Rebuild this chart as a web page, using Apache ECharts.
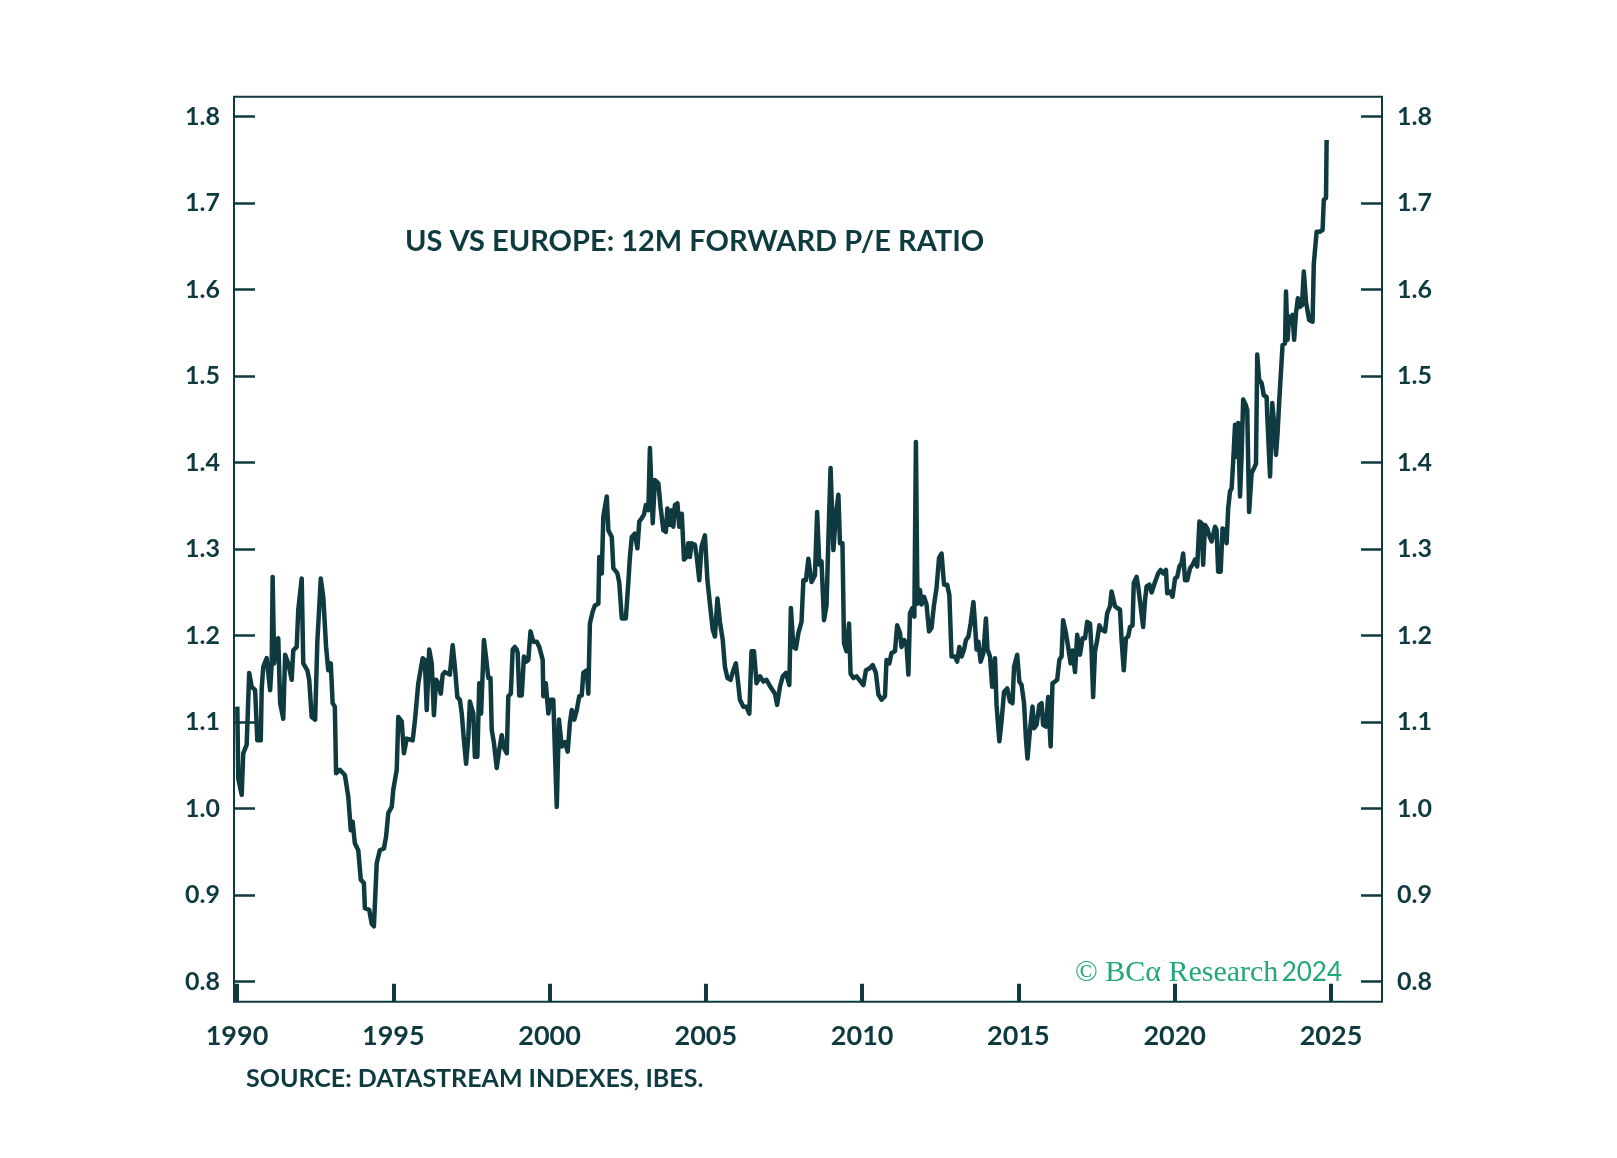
<!DOCTYPE html>
<html><head><meta charset="utf-8">
<script src="https://cdn.jsdelivr.net/npm/echarts/dist/echarts.min.js"></script>
<style>html,body{margin:0;padding:0;background:#fff}#c{width:1617px;height:1158px}</style>
</head><body><div id="c"></div>
<script>
// Decimal-year dates and US/Europe 12M forward P/E ratio values
const dates = [
1990.01,1990.04,1990.15,1990.20,1990.31,1990.39,1990.47,1990.58,1990.65,1990.76,1990.79,1990.84,1990.95,1991.06,1991.11,1991.14,1991.19,1991.25,1991.32,1991.38,1991.48,1991.54,1991.64,1991.75,1991.80,1991.91,1991.96,1992.07,1992.12,1992.25,1992.31,1992.39,1992.50,1992.57,1992.63,1992.68,1992.76,1992.85,1992.92,1993.00,1993.06,1993.13,1993.17,1993.29,1993.45,1993.56,1993.64,1993.70,1993.77,1993.88,1993.96,1994.06,1994.09,1994.23,1994.31,1994.38,1994.47,1994.57,1994.70,1994.77,1994.84,1994.95,1995.00,1995.11,1995.16,1995.27,1995.34,1995.43,1995.62,1995.69,1995.80,
1995.85,1995.94,1996.01,1996.07,1996.15,1996.23,1996.30,1996.37,1996.44,1996.52,1996.58,1996.65,1996.81,1996.90,1996.97,1997.05,1997.13,1997.19,1997.26,1997.33,1997.40,1997.45,1997.51,1997.56,1997.61,1997.69,1997.75,1997.81,1997.86,1997.90,1997.99,1998.04,1998.11,1998.15,1998.22,1998.31,1998.39,1998.47,1998.52,1998.63,1998.68,1998.76,1998.82,1998.89,1998.95,1998.98,1999.03,1999.11,1999.18,1999.25,1999.32,1999.39,1999.48,1999.59,1999.67,
1999.78,1999.80,1999.88,1999.96,2000.03,2000.12,2000.17,2000.23,2000.30,2000.39,2000.49,2000.58,2000.65,2000.71,2000.79,2000.87,2000.95,2001.03,2001.08,2001.19,2001.24,2001.29,2001.38,2001.45,2001.56,2001.59,2001.67,2001.72,2001.83,2001.88,2001.99,2002.04,2002.17,2002.23,2002.31,2002.44,2002.52,2002.57,2002.63,2002.73,2002.81,2002.87,2002.95,2003.02,2003.08,2003.16,2003.21,2003.30,2003.37,2003.48,2003.55,2003.64,2003.72,2003.77,2003.85,2003.91,2003.96,2004.01,2004.09,2004.15,2004.23,2004.30,2004.38,2004.44,2004.49,2004.54,2004.65,2004.71,2004.79,
2004.86,2004.97,2005.05,2005.13,2005.22,2005.29,2005.37,2005.45,2005.54,2005.61,2005.69,2005.79,2005.88,2005.96,2006.04,2006.09,2006.20,2006.30,2006.39,2006.46,2006.54,2006.62,2006.73,2006.84,2006.94,2007.03,2007.10,2007.21,2007.28,2007.37,2007.46,2007.56,2007.67,2007.72,2007.80,2007.88,2007.96,2008.06,2008.12,2008.20,2008.28,2008.33,2008.38,2008.49,2008.56,2008.63,2008.70,2008.78,2008.86,2008.92,2008.99,2009.08,2009.16,2009.24,2009.29,2009.37,2009.42,2009.50,2009.58,2009.63,2009.72,2009.82,2009.91,
2010.04,2010.12,2010.23,2010.34,2010.44,2010.52,2010.62,2010.73,2010.78,2010.87,2010.94,2011.05,2011.12,2011.21,2011.26,2011.35,2011.42,2011.48,2011.53,2011.61,2011.67,2011.72,2011.77,2011.85,2011.90,2011.98,2012.06,2012.14,2012.22,2012.30,2012.38,2012.46,2012.54,2012.62,2012.72,2012.79,2012.86,2012.97,2013.04,2013.11,2013.18,2013.26,2013.32,2013.40,2013.47,2013.56,2013.61,2013.66,2013.72,2013.79,2013.88,2013.96,2014.01,2014.09,2014.16,2014.25,2014.30,2014.39,
2014.46,2014.54,2014.64,2014.73,2014.81,2014.86,2014.96,2015.03,2015.10,2015.18,2015.24,2015.29,2015.37,2015.45,2015.50,2015.58,2015.67,2015.74,2015.79,2015.88,2015.95,2016.03,2016.09,2016.17,2016.24,2016.31,2016.38,2016.43,2016.52,2016.59,2016.67,2016.73,2016.81,2016.88,2016.97,2017.05,2017.13,2017.20,2017.29,2017.34,2017.39,2017.45,2017.52,2017.59,2017.66,2017.77,2017.84,2017.93,2017.98,2018.09,2018.16,2018.25,2018.30,2018.37,2018.44,2018.51,2018.57,2018.65,2018.69,2018.78,2018.83,2018.91,2018.99,2019.05,2019.10,2019.19,
2019.26,2019.37,2019.47,2019.55,2019.63,2019.72,2019.76,2019.85,2019.93,2020.01,2020.08,2020.15,2020.22,2020.27,2020.33,2020.40,2020.49,2020.57,2020.65,2020.72,2020.79,2020.86,2020.91,2020.97,2021.04,2021.11,2021.18,2021.23,2021.29,2021.34,2021.39,2021.47,2021.53,2021.61,2021.66,2021.71,2021.77,2021.82,2021.87,2021.93,2021.98,2022.03,2022.09,2022.14,2022.19,2022.27,2022.32,2022.38,2022.46,2022.53,2022.60,2022.64,2022.70,2022.78,2022.85,2022.94,2022.96,2023.05,2023.12,2023.17,2023.24,2023.29,2023.34,2023.40,2023.45,2023.53,2023.56,2023.61,2023.66,2023.72,2023.77,2023.82,2023.88,2023.94,2024.00,2024.07,2024.13,2024.20,2024.26,2024.30,2024.41,2024.45,2024.54,2024.64,2024.73,2024.77,2024.84,2024.86
];
const peRatio = [
1.118,1.035,1.016,1.064,1.074,1.157,1.141,1.137,1.079,1.079,1.139,1.164,1.174,1.137,1.168,1.268,1.168,1.195,1.197,1.122,1.104,1.178,1.168,1.149,1.183,1.187,1.230,1.266,1.168,1.160,1.149,1.106,1.103,1.193,1.195,1.266,1.245,1.187,1.160,1.168,1.122,1.118,1.041,1.045,1.039,1.014,0.975,0.985,0.960,0.952,0.918,0.914,0.885,0.883,0.867,0.864,0.937,0.952,0.954,0.968,0.995,1.002,1.022,1.045,1.106,1.101,1.064,1.081,1.079,1.101,1.145,
1.145,1.174,1.172,1.114,1.184,1.168,1.108,1.149,1.145,1.133,1.155,1.158,1.155,1.189,1.164,1.129,1.126,1.110,1.079,1.052,1.083,1.124,1.126,1.110,1.060,1.060,1.145,1.110,1.110,1.195,1.168,1.151,1.151,1.091,1.076,1.047,1.068,1.085,1.072,1.064,1.130,1.133,1.184,1.187,1.184,1.180,1.131,1.131,1.176,1.170,1.172,1.205,1.193,1.193,1.187,
1.172,1.130,1.145,1.110,1.126,1.126,1.068,1.002,1.103,1.072,1.077,1.066,1.099,1.114,1.103,1.114,1.130,1.131,1.157,1.160,1.133,1.214,1.228,1.235,1.237,1.291,1.272,1.338,1.361,1.322,1.314,1.278,1.272,1.261,1.220,1.220,1.262,1.291,1.314,1.318,1.301,1.332,1.336,1.340,1.351,1.345,1.417,1.330,1.380,1.376,1.349,1.322,1.320,1.347,1.328,1.345,1.326,1.351,1.353,1.326,1.341,1.288,1.291,1.307,1.291,1.307,1.305,1.291,1.264,
1.303,1.316,1.264,1.237,1.207,1.199,1.243,1.216,1.195,1.164,1.151,1.149,1.160,1.168,1.143,1.126,1.118,1.118,1.110,1.182,1.182,1.145,1.153,1.147,1.149,1.143,1.139,1.133,1.120,1.141,1.153,1.157,1.143,1.232,1.187,1.185,1.203,1.216,1.264,1.264,1.289,1.291,1.262,1.270,1.343,1.282,1.286,1.218,1.235,1.311,1.394,1.299,1.340,1.363,1.307,1.307,1.191,1.182,1.214,1.156,1.151,1.153,1.149,
1.143,1.160,1.162,1.166,1.157,1.132,1.126,1.130,1.172,1.168,1.180,1.182,1.212,1.203,1.187,1.195,1.189,1.155,1.226,1.232,1.222,1.424,1.237,1.253,1.236,1.245,1.236,1.205,1.209,1.236,1.255,1.290,1.295,1.259,1.259,1.247,1.176,1.176,1.170,1.187,1.176,1.184,1.195,1.199,1.214,1.239,1.214,1.184,1.193,1.170,1.180,1.220,1.184,1.176,1.141,1.174,1.120,1.078,
1.101,1.135,1.139,1.124,1.122,1.164,1.178,1.147,1.143,1.122,1.081,1.058,1.091,1.118,1.093,1.097,1.120,1.122,1.097,1.095,1.129,1.072,1.145,1.147,1.149,1.172,1.176,1.218,1.203,1.187,1.168,1.183,1.158,1.201,1.178,1.197,1.197,1.216,1.214,1.183,1.129,1.182,1.195,1.212,1.207,1.205,1.226,1.234,1.251,1.234,1.232,1.230,1.195,1.160,1.197,1.199,1.210,1.212,1.261,1.268,1.257,1.234,1.210,1.241,1.257,1.259,
1.250,1.262,1.272,1.276,1.272,1.276,1.249,1.251,1.245,1.266,1.268,1.280,1.284,1.295,1.264,1.264,1.278,1.282,1.288,1.280,1.332,1.330,1.282,1.328,1.324,1.315,1.309,1.307,1.326,1.322,1.274,1.274,1.324,1.322,1.307,1.347,1.367,1.370,1.401,1.444,1.407,1.446,1.361,1.409,1.473,1.467,1.461,1.343,1.388,1.393,1.399,1.525,1.496,1.492,1.478,1.476,1.455,1.384,1.469,1.449,1.409,1.434,1.469,1.471,1.536,1.538,1.598,1.542,1.569,1.565,1.571,1.542,1.573,1.590,1.580,1.582,1.621,1.586,1.588,1.565,1.563,1.630,1.667,1.667,1.669,1.704,1.706,1.773
];
const xTickMin = 1990, xTickMax = 2025, xTickStep = 5;
const yTickMin = 0.8, yTickMax = 1.8, yTickStep = 0.1;
const chartTitle = 'US VS EUROPE: 12M FORWARD P/E RATIO';
const sourceNote = 'SOURCE: DATASTREAM INDEXES, IBES.';
const watermark = '© BCα Research';
const watermarkYear = '2024';

const INK = '#0e3a40';
const GREEN = '#22a67b';
const FONT = 'Lato, "Open Sans", sans-serif';

const n = Math.min(dates.length, peRatio.length);
const seriesData = [];
for (let i = 0; i < n; i++) seriesData.push([dates[i], peRatio[i]]);

const chart = echarts.init(document.getElementById('c'), null, {renderer: 'canvas'});
const yLabel = {color: INK, fontSize: 25, fontWeight: 'bold', fontFamily: FONT, formatter: v => v.toFixed(1)};
chart.setOption({
  animation: false,
  backgroundColor: '#ffffff',
  grid: {left: 237, right: 286, top: 116.7, bottom: 176.3, containLabel: false},
  xAxis: {
    type: 'value', min: xTickMin, max: xTickMax, interval: xTickStep,
    offset: 20,
    axisLine: {show: false},
    axisTick: {show: true, inside: true, length: 18, lineStyle: {color: INK, width: 4}},
    splitLine: {show: false},
    axisLabel: {color: INK, fontSize: 27, fontWeight: 'bold', fontFamily: FONT, margin: 21, formatter: v => String(v)}
  },
  yAxis: [
    {
      type: 'value', position: 'left', min: yTickMin, max: yTickMax, interval: yTickStep, offset: 3,
      axisLine: {show: false},
      axisTick: {show: true, inside: true, length: 21, lineStyle: {color: INK, width: 2.5}},
      splitLine: {show: false},
      axisLabel: Object.assign({margin: 14}, yLabel)
    },
    {
      type: 'value', position: 'right', min: yTickMin, max: yTickMax, interval: yTickStep, offset: 51,
      axisLine: {show: false},
      axisTick: {show: true, inside: true, length: 21, lineStyle: {color: INK, width: 2.5}},
      splitLine: {show: false},
      axisLabel: Object.assign({margin: 15}, yLabel)
    }
  ],
  series: [{
    type: 'line', yAxisIndex: 0, data: seriesData, showSymbol: false, symbol: 'none',
    lineStyle: {color: INK, width: 4.5, join: 'round'}, clip: false
  }],
  graphic: [
    {type: 'rect', shape: {x: 234, y: 96.7, width: 1148, height: 905}, style: {fill: null, stroke: INK, lineWidth: 2}, z: 10},
    {type: 'text', x: 405, y: 242, style: {text: chartTitle, fill: INK, fontSize: 29, fontWeight: 'bold', fontFamily: FONT, verticalAlign: 'middle', align: 'left'}},
    {type: 'text', x: 246, y: 1079, style: {text: sourceNote, fill: INK, fontSize: 25, fontWeight: 'bold', fontFamily: FONT, verticalAlign: 'middle', align: 'left'}},
    {type: 'text', x: 1342, y: 973, style: {
      text: '{a|' + watermark + '} {b|' + watermarkYear + '}', align: 'right', verticalAlign: 'middle',
      rich: {
        a: {fill: GREEN, fontSize: 30, fontFamily: '"Liberation Serif", "DejaVu Serif", serif'},
        b: {fill: GREEN, fontSize: 26, fontFamily: FONT}
      }
    }}
  ]
});
</script>
</body></html>
